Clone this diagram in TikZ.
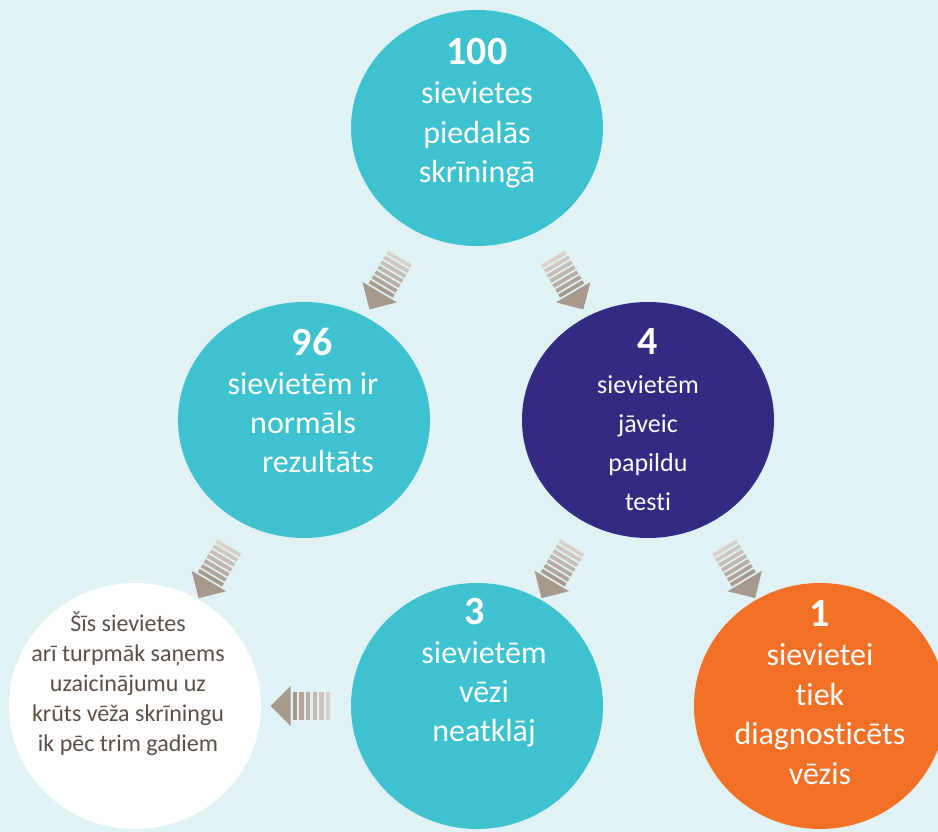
\documentclass[tikz,border=0pt]{standalone}
\usepackage{fontspec}
\setmainfont[Ligatures=NoCommon]{Carlito}
\definecolor{screenbg}{RGB}{224,242,244}
\definecolor{screenteal}{RGB}{62,194,207}
\definecolor{screenpurple}{RGB}{51,42,130}
\definecolor{screenorange}{RGB}{242,113,39}
\definecolor{arrowdark}{RGB}{168,153,141}
\definecolor{arrowlight}{RGB}{222,214,208}
\definecolor{notegray}{RGB}{94,80,71}
\usetikzlibrary{shapes,arrows}
\tikzstyle{ball} = [ellipse, minimum width=252pt, minimum height=236pt, inner sep=0pt]
\tikzstyle{lowball} = [ball, minimum height=246pt]
\tikzstyle{bigtext} = [anchor=north, inner sep=0pt, align=center, text=white,
    font=\fontsize{32}{39.5}\selectfont]
\tikzstyle{smalltext} = [bigtext, font=\fontsize{26}{39}\selectfont]
\tikzstyle{notetext} = [bigtext, text=notegray, font=\fontsize{24}{30}\selectfont]
\newcommand{\bignum}[1]{{\fontsize{40}{39}\selectfont\bfseries #1}}
\tikzset{pics/stripe arrow/.style={code={
  \fill[arrowdark] (31,0) -- (11,20) -- (11,-20) -- cycle;
  \foreach \i [evaluate=\i as \pct using int(90*(\i-1)/(#1-1))] in {1,...,#1}
    \fill[arrowlight!\pct!arrowdark] ({9-(\i-1)*40/#1-0.65*40/#1},-14) rectangle ({9-(\i-1)*40/#1},14);
}}}

\begin{document}
\begin{tikzpicture}[x=1pt, y=1pt]
  \useasboundingbox (0,0) rectangle (938,832);
  \fill [screenbg] (0,0) rectangle (938,832);
  \node [ball, fill=screenteal] (all_screened) at (477,704) {};
  \node [ball, fill=screenteal] (normal_result) at (304,412) {};
  \node [ball, fill=screenpurple] (extra_tests) at (648,412) {};
  \node [lowball, fill=screenteal] (no_cancer) at (477,126) {};
  \node [lowball, fill=screenorange, right of=no_cancer, node distance=343pt] (cancer_found) {};
  \node [lowball, fill=white, left of=no_cancer, node distance=342pt] (invite_again) {};
  \node [bigtext] (all_screened_text) at ([yshift=90]all_screened.center) {\bignum{100}\\sievietes\\piedalās\\skrīningā};
  \node [bigtext, font=\fontsize{32}{39}\selectfont] (normal_result_text) at ([xshift=-1, yshift=92]normal_result.center) {\hspace*{18pt}\bignum{96}\\sievietēm ir\\normāls\\\hspace*{30pt}rezultāts};
  \node [smalltext] (extra_tests_text) at ([yshift=92]extra_tests.center) {\bignum{4}\\sievietēm\\jāveic\\papildu\\testi};
  \node [bigtext, font=\fontsize{32}{39}\selectfont] (no_cancer_text) at ([xshift=7, yshift=108]no_cancer.center) {\hspace*{-18pt}\bignum{3}\\sievietēm\\vēzi\\neatklāj};
  \node [bigtext, font=\fontsize{32}{39.5}\selectfont] (cancer_found_text) at ([yshift=106]cancer_found.center) {\bignum{1}\\sievietei\\tiek\\diagnosticēts\\vēzis};
  \node [notetext] (invite_again_text) at ([xshift=-7, yshift=94]invite_again.center) {Šīs sievietes\\arī turpmāk saņems\\uzaicinājumu uz\\krūts vēža skrīningu\\ik pēc trim gadiem};
  \path (all_screened.center) -- pic[pos=0.53, sloped, allow upside down] {stripe arrow=7} (normal_result.center);
  \path (all_screened.center) -- pic[pos=0.53, sloped, allow upside down] {stripe arrow=7} (extra_tests.center);
  \path (normal_result.center) -- pic[pos=0.53, sloped, allow upside down] {stripe arrow=7} (invite_again.center);
  \path (extra_tests.center) -- pic[pos=0.53, sloped, allow upside down] {stripe arrow=7} (no_cancer.center);
  \path (extra_tests.center) -- pic[pos=0.53, sloped, allow upside down] {stripe arrow=7} (cancer_found.center);
  \path (no_cancer.center) -- pic[pos=0.513, sloped, allow upside down] {stripe arrow=6} (invite_again.center);
\end{tikzpicture}
\end{document}
